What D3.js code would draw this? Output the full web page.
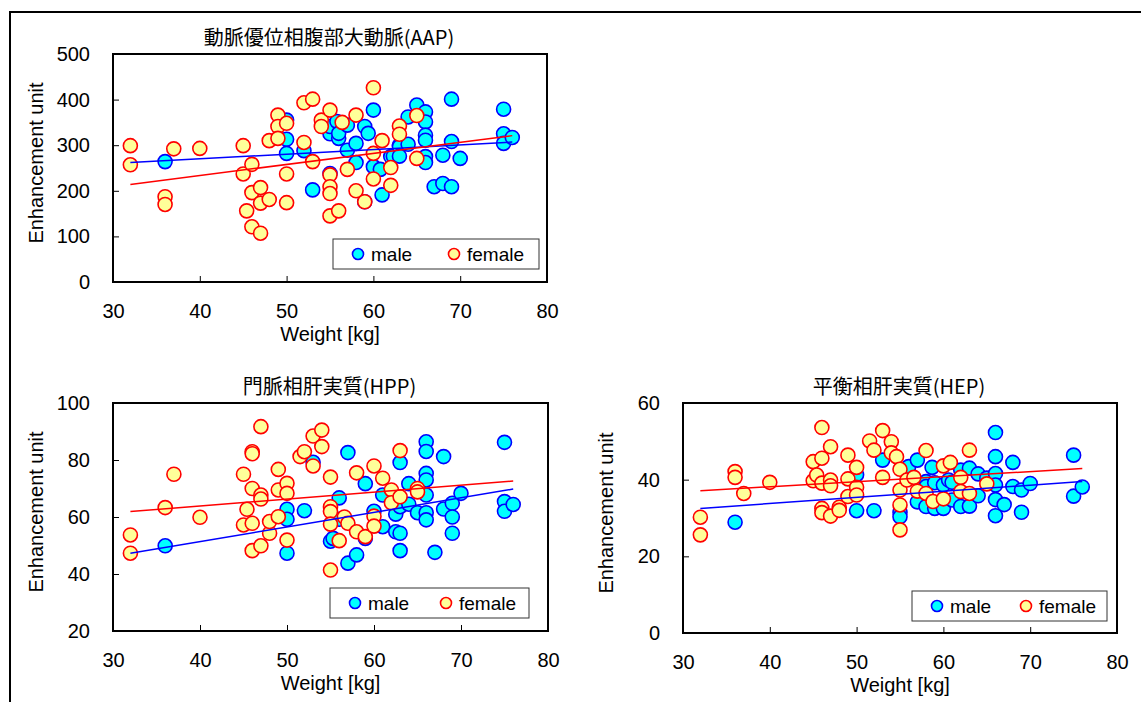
<!DOCTYPE html>
<html>
<head>
<meta charset="utf-8">
<script src="https://cdn.jsdelivr.net/npm/d3@7/dist/d3.min.js"></script>
<style>
  body { margin: 0; background: #fff; }
  svg { display: block; font-family: "Liberation Sans", "Noto Sans CJK JP", sans-serif; }
</style>
</head>
<body>
<svg id="chart" width="1141" height="702"></svg>
<script>
// weight [kg], enhancement unit
const aapMale = [[36,264],[50,355],[50,313],[50,282],[52,288],[53,202],[55,325],[55,341],[55,238],[55.8,352],[56,315],[56,326],
  [57,344],[57,289],[58,304],[58,262],[59,341],[59.4,326],[59,176],[60,377],[60,253],[60.8,247],[61,191],[62,275],[62.3,276],
  [63,300],[63,297],[63,276],[64,362],[64,302],[65,388],[66,373],[66,351],[66,322],[66,311],[66,275],[66,262],[68,278],
  [69,308],[70,271],[69,401],[67,209],[68,216],[69,209],[75,379],[75,325],[75,304],[76,317]];
const aapFemale = [[32,299],[32,257],[36,187],[36,170],[37,292],[40,293],[45,299],[45,237],[45.4,156],[46,258],[46,196],
  [46,121],[47,107],[47,207],[47,173],[48,181],[48,310],[49,366],[49,341],[49,315],[50,348],[50,237],[50,174],[52,393],
  [53,401],[52,306],[53,264],[54,355],[54,341],[55,377],[55,235],[55,209],[55,194],[55,145],[56,156],[56.4,350],[57,247],
  [58,366],[58,200],[59,176],[60,426],[60,282],[60,226],[61,310],[62,251],[62,212],[63,342],[63,324],[65,365],[65,271]];
const aapMaleTrend = [[32,262],[76,307]];
const aapFemaleTrend = [[32,214],[76,321]];

const hppMale = [[36,49.9],[50,62.7],[50,59.2],[50,47.3],[52,62.2],[53,79.2],[55,51.5],[55.3,52.5],[56,66.7],[56,59.2],
  [57,82.6],[57,43.8],[58,46.7],[59,71.7],[59,52.5],[60,62],[61,67.7],[61,56.6],[62.5,61],[62.5,54.8],[63,79.1],[63,54.3],
  [63,48.2],[63,63.6],[64,71.7],[64,64.5],[65,61.5],[66,86.4],[66,83],[66,75.3],[66,73],[66,67.7],[66,61.5],[66,59],
  [67,47.6],[68,81.2],[68,62.8],[69,64.8],[69,60],[69,54.3],[70,68.3],[75,86.2],[75,65.4],[75,62],[76,64.4]];
const hppFemale = [[32,53.7],[32,47.3],[36,63.3],[37,75],[40,59.9],[45,75],[45.4,62.7],[45,57.2],[46,57.8],[46,70],[46,82.9],
  [46,82.2],[46,48.2],[47,91.7],[47,67.7],[47,66.3],[47,49.9],[48,54.3],[48,58.4],[49,76.7],[49,69.5],[49,60.1],[50,71.8],
  [50,68.3],[50,51.9],[51.5,81.2],[52,82.9],[53,88.4],[53,77.9],[54,90.5],[54,84.7],[55,74],[55,63.6],[55,61.9],[55,57.5],
  [55,41.4],[56,51.7],[56.6,60],[57,57.8],[58,75.5],[58,54.8],[59,53.1],[60,77.9],[60,60.3],[60,56.8],[61,73.6],[62,69.5],
  [62,65],[63,83.3],[63,67.1],[65,70],[65,68.8]];
const hppMaleTrend = [[32,47.3],[76,69.8]];
const hppFemaleTrend = [[32,61.9],[76,72.6]];

const hepMale = [[36,28.9],[50,41.3],[50,31.9],[52,31.9],[53,45.1],[55,31.5],[55,30.3],[56,43.4],[57,45.1],[57,34.2],[58,39.5],
  [58,33],[58,38.2],[58.7,43.2],[59,39.2],[59,32.5],[60,32.5],[60,38.6],[60.6,39.9],[61,34.7],[61,39.3],[62,42.5],[62,33],
  [63,43],[63,33.1],[64,41.5],[64,35.8],[65,40.4],[66,52.3],[66,46],[66,41.6],[66,38.6],[66,34.8],[66,30.6],[67,33.5],
  [68,44.5],[68,38.2],[69,37.3],[69,31.5],[70,39],[75,46.4],[75,35.7],[76,38.1]];
const hepFemale = [[32,30.2],[32,25.6],[36,42.1],[36,40.6],[37,36.4],[40,39.3],[45,44.7],[45,39.7],[45.4,41.2],[46,53.6],
  [46,45.6],[46,39.1],[46,32.5],[46,31.4],[47,48.6],[47,39.9],[47,38.4],[47,30.5],[48,32.8],[48,32],[49,46.4],[49,40.2],
  [49,35.6],[50,43.2],[50,38],[50,36],[51.5,50.1],[52,47.7],[53,52.8],[53,40.6],[54,49.9],[54,47],[54.6,46],[55,42.7],
  [55,37.3],[55,33.4],[55,26.9],[55.8,39.9],[56.6,40.6],[57,37],[58,36.4],[58,47.6],[58.8,34.3],[60,43.6],[60.8,44.5],
  [60,35],[62,40.6],[62,36.9],[63,36.4],[63,47.7],[65,38.9]];
const hepMaleTrend = [[32,32.5],[76,39.5]];
const hepFemaleTrend = [[32,37.1],[76,42.9]];

const xTicks = [30, 40, 50, 60, 70, 80];
const aapTicks = [0, 100, 200, 300, 400, 500];
const hppTicks = [20, 40, 60, 80, 100];
const hepTicks = [0, 20, 40, 60];
const titles = ["動脈優位相腹部大動脈(AAP)", "門脈相肝実質(HPP)", "平衡相肝実質(HEP)"];
const seriesNames = ["male", "female"];

const svg = d3.select("#chart");

svg.append("rect")
  .attr("x", 10).attr("y", 12)
  .attr("width", 1140).attr("height", 700)
  .attr("fill", "none").attr("stroke", "#000").attr("stroke-width", 2);

const maleStyle = {fill: "#00ffff", stroke: "#0000ff"};
const femaleStyle = {fill: "#ffff99", stroke: "#ff0000"};

function drawPanel(p) {
  let g = svg.append("g");
  let x = d3.scaleLinear().domain([30, 80]).range([p.left, p.right]);
  let y = d3.scaleLinear().domain([p.ticks[0], p.ticks[p.ticks.length - 1]]).range([p.bottom, p.top]);

  let ya = g.append("g")
    .attr("transform", `translate(${p.left},0)`)
    .call(d3.axisLeft(y).tickValues(p.ticks).tickSize(-6).tickPadding(23).tickFormat(d3.format("d")));
  ya.select(".domain").remove();
  ya.selectAll("line").attr("stroke", "#000");
  ya.selectAll("text").attr("font-size", 20).attr("fill", "#000");

  let xa = g.append("g")
    .attr("transform", `translate(0,${p.bottom})`)
    .call(d3.axisBottom(x).tickValues(xTicks).tickSize(-6).tickPadding(22).tickFormat(d3.format("d")));
  xa.select(".domain").remove();
  xa.selectAll("line").attr("stroke", "#000");
  xa.selectAll("text").attr("font-size", 20).attr("fill", "#000");

  g.append("text")
    .attr("x", (p.left + p.right) / 2 - 1).attr("y", p.top - 9)
    .attr("text-anchor", "middle").attr("font-size", 20)
    .attr("font-family", "'Noto Sans CJK JP', sans-serif")
    .text(p.title);

  g.append("text")
    .attr("transform", `translate(${p.left - 77},${(p.top + p.bottom) / 2 - 5}) rotate(-90)`)
    .attr("text-anchor", "middle").attr("dy", "0.35em").attr("font-size", 20)
    .text("Enhancement unit");

  g.append("text")
    .attr("x", (p.left + p.right) / 2).attr("y", p.bottom + 58.5)
    .attr("text-anchor", "middle").attr("font-size", 20)
    .text("Weight [kg]");

  let series = [[p.male, maleStyle], [p.female, femaleStyle]];
  series.forEach(function(s) {
    g.append("g").selectAll("circle")
      .data(s[0]).enter().append("circle")
        .attr("cx", d => x(d[0]))
        .attr("cy", d => y(d[1]))
        .attr("r", 7)
        .attr("fill", s[1].fill)
        .attr("stroke", s[1].stroke)
        .attr("stroke-width", 1.6);
  });

  let line = d3.line().x(d => x(d[0])).y(d => y(d[1]));
  [[p.maleTrend, "#0000ff"], [p.femaleTrend, "#ff0000"]].forEach(function(t) {
    g.append("path").attr("d", line(t[0]))
      .attr("fill", "none").attr("stroke", t[1]).attr("stroke-width", 1.5);
  });

  g.append("rect")
    .attr("x", p.left).attr("y", p.top)
    .attr("width", p.right - p.left).attr("height", p.bottom - p.top)
    .attr("fill", "none").attr("stroke", "#000").attr("stroke-width", 2);

  // legend
  let lg = g.append("g").attr("transform", `translate(${p.legend[0]},${p.legend[1]})`);
  lg.append("rect").attr("width", p.legend[2]).attr("height", 30)
    .attr("fill", "#fff").attr("stroke", "#333").attr("stroke-width", 1);
  [[maleStyle, 0], [femaleStyle, 1]].forEach(function(s) {
    let ox = s[1] === 0 ? 25 : p.legend[3];
    lg.append("circle").attr("cx", ox).attr("cy", 15).attr("r", 5.5)
      .attr("fill", s[0].fill).attr("stroke", s[0].stroke).attr("stroke-width", 1.6);
    lg.append("text").attr("x", ox + 13).attr("y", 15).attr("dy", "0.35em")
      .attr("font-size", 19).text(seriesNames[s[1]]);
  });
}

drawPanel({title: titles[0], left: 113, right: 547, top: 54, bottom: 282, ticks: aapTicks,
  male: aapMale, female: aapFemale, maleTrend: aapMaleTrend, femaleTrend: aapFemaleTrend,
  legend: [333, 239, 206, 121]});
drawPanel({title: titles[1], left: 113, right: 548, top: 403, bottom: 631, ticks: hppTicks,
  male: hppMale, female: hppFemale, maleTrend: hppMaleTrend, femaleTrend: hppFemaleTrend,
  legend: [330, 588, 199, 116]});
drawPanel({title: titles[2], left: 683, right: 1117, top: 403, bottom: 633, ticks: hepTicks,
  male: hepMale, female: hepFemale, maleTrend: hepMaleTrend, femaleTrend: hepFemaleTrend,
  legend: [912, 591, 195, 114]});
</script>
</body>
</html>
